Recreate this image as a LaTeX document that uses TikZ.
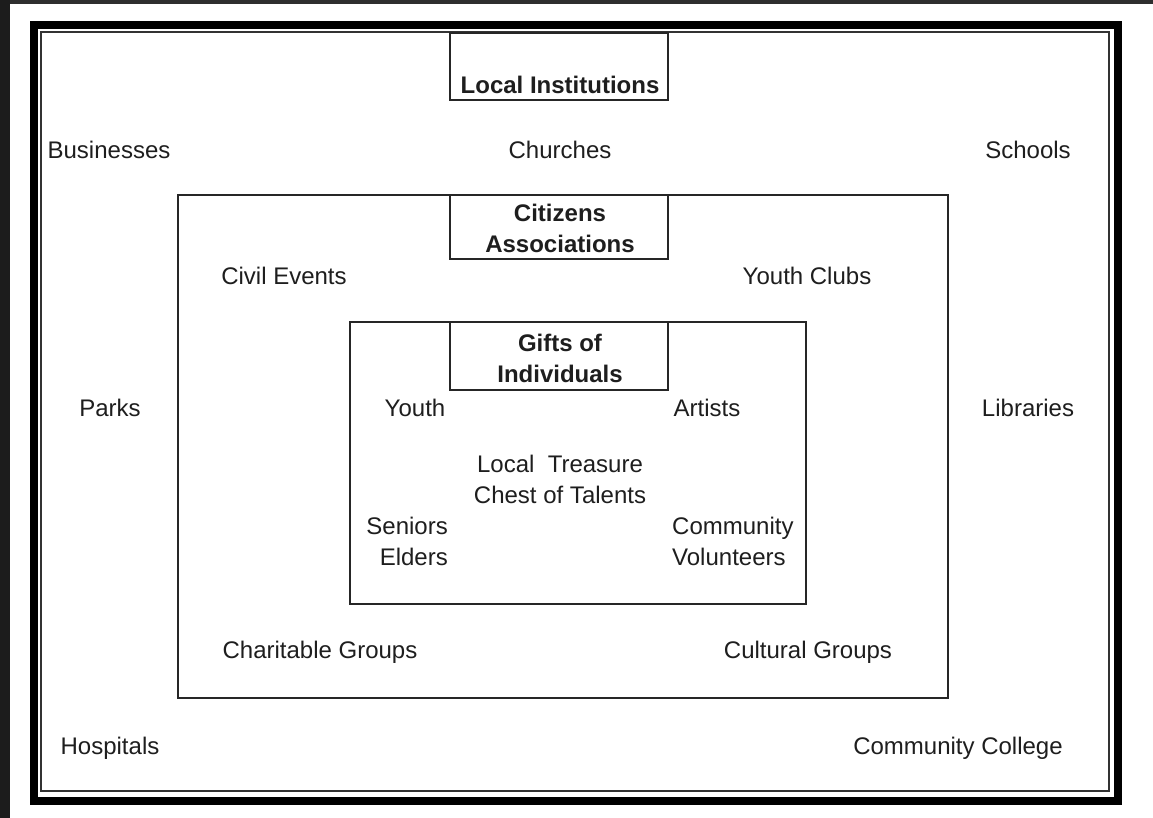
\documentclass[tikz,border=0pt]{standalone}
\usepackage{fontspec}
\setmainfont{Liberation Sans}
\definecolor{bgdark}{HTML}{2E2E2E}
\definecolor{txt}{HTML}{1E1E1E}
\begin{document}
\begin{tikzpicture}[x=1pt,y=-1pt,
  lab/.style={font=\fontsize{24}{31}\selectfont, text=txt, inner sep=0pt},
  bold/.style={font=\fontsize{24}{31}\selectfont\bfseries, text=txt, inner sep=0pt, align=center},
  box/.style={draw=black!85, line width=2pt}]
\useasboundingbox (0,0) rectangle (1153,818);
\fill[white] (0,0) rectangle (1153,818);
\fill[bgdark] (0,0) rectangle (1153,4);
\fill[bgdark!60!black] (0,0) rectangle (10,818);
% outer frames
\draw[line width=8pt, black] (34,25) rectangle (1118,801);
\draw[line width=2.2pt, black!80] (41,32) rectangle (1109,791);
% boxes
\draw[box] (178,195) rectangle (948,698);
\draw[box] (350,322) rectangle (806,604);
\draw[box] (450,33) rectangle (668,100);
\draw[box] (450,195) rectangle (668,259);
\draw[box] (450,322) rectangle (668,390);
% titles
\node[bold] (li) at (560,85) {Local Institutions};
\node[bold] (ca) at (560,228) {Citizens\\Associations};
\node[bold] (gi) at (560,358) {Gifts of\\Individuals};
% outer labels
\node[lab] (bus) at (109,150) {Businesses};
\node[lab] (chu) at (560,150) {Churches};
\node[lab] (sch) at (1028,150) {Schools};
\node[lab] (par) at (110,408) {Parks};
\node[lab] (lib) at (1028,408) {Libraries};
\node[lab] (hos) at (110,748) {Hospitals};
\node[lab] (cc) at (958,748) {Community College};
% middle labels
\node[lab] (ce) at (284,276) {Civil Events};
\node[lab] (yc) at (807,276) {Youth Clubs};
\node[lab] (cg) at (320,652) {Charitable Groups};
\node[lab] (cu) at (808,652) {Cultural Groups};
% inner labels
\node[lab] (you) at (415,408) {Youth};
\node[lab] (art) at (707,408) {Artists};
\node[lab, align=center] (ltc) at (560,479) {Local\ \ Treasure\\Chest of Talents};
\node[lab, align=right, anchor=east] (se) at (448,541) {Seniors\\Elders};
\node[lab, align=left, anchor=west] (cv) at (672,541) {Community\\Volunteers};
\end{tikzpicture}
\end{document}
